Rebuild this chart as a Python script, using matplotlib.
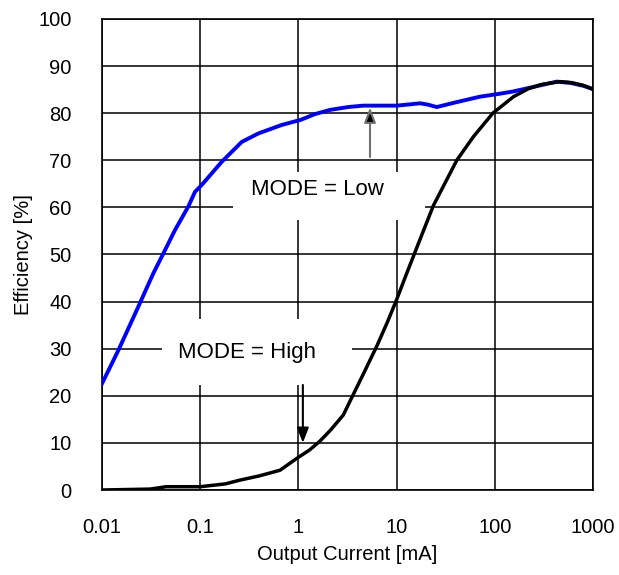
import numpy as np
import matplotlib.pyplot as plt
from matplotlib.patches import Rectangle

plt.rcParams['font.family'] = ['Liberation Sans', 'DejaVu Sans']

# MODE = Low (blue)
low_x = [0.01, 0.0147, 0.0234, 0.0333, 0.0421, 0.0554, 0.0757, 0.0885, 0.104,
         0.166, 0.265, 0.391, 0.676, 1.06, 1.47, 2.1, 3.2, 4.56, 7.0, 10,
         14.0, 17.4, 21.0, 25.6, 40, 70.5, 110, 153, 250, 428, 600, 800, 1000]
low_y = [22.6, 29.7, 38.9, 46.0, 50.2, 55.2, 60.2, 63.3, 64.8,
         69.7, 73.9, 75.7, 77.5, 78.6, 79.8, 80.7, 81.3, 81.6, 81.6, 81.6,
         81.9, 82.1, 81.8, 81.3, 82.3, 83.5, 84.1, 84.6, 85.6, 86.7, 86.4, 85.8, 85.1]

# MODE = High (black)
high_x = [0.01, 0.031, 0.045, 0.1, 0.18, 0.254, 0.4, 0.65, 0.96, 1.3, 1.66,
          2.1, 2.86, 3.49, 4.6, 6.27, 8.0, 10, 12.3, 15.4, 23.7, 41, 60.5,
          95.5, 155, 220, 300, 460, 600, 800, 1000]
high_y = [0.0, 0.2, 0.7, 0.7, 1.3, 2.1, 3.0, 4.2, 6.7, 8.5, 10.4,
          12.6, 15.9, 19.6, 24.7, 30.5, 35.5, 40.4, 45.3, 50.5, 60.4, 70.0, 75.0,
          80.0, 83.5, 85.2, 86.1, 86.7, 86.5, 85.9, 85.1]

xticks = [0.01, 0.1, 1, 10, 100, 1000]
xlabels = ['0.01', '0.1', '1', '10', '100', '1000']
yticks = list(range(0, 101, 10))

fig = plt.figure(figsize=(6.19, 5.75), dpi=100)
ax = fig.add_axes([0.1648, 0.1478, 0.7932, 0.8192])

ax.plot(low_x, low_y, color='#0000ff', lw=2.8, zorder=4)
ax.plot(high_x, high_y, color='black', lw=2.5, zorder=5)

ax.set_xscale('log')
ax.set_xlim(0.01, 1000)
ax.set_ylim(0, 100)
ax.set_xticks(xticks)
ax.set_xticklabels(xlabels)
ax.minorticks_off()
ax.set_yticks(yticks)
ax.grid(True, color='black', lw=1.1, zorder=1)
ax.set_axisbelow(True)
ax.tick_params(length=0, labelsize=14.5, pad=20)
ax.tick_params(axis='y', pad=22)
for s in ax.spines.values():
    s.set_linewidth(1.2)

ax.set_xlabel('Output Current [mA]', fontsize=14.5, labelpad=6)
ax.set_ylabel('Efficiency [%]', fontsize=14.5, labelpad=4)

# white boxes behind the labels
ax.add_patch(Rectangle((0.216, 57.3), 19.5 - 0.216, 67.5 - 57.3,
                       facecolor='white', edgecolor='none', zorder=2))
ax.add_patch(Rectangle((0.0408, 22.3), 3.52 - 0.0408, 36.2 - 22.3,
                       facecolor='white', edgecolor='none', zorder=2))

ax.text(1.58, 63.7, 'MODE = Low', fontsize=16, ha='center', va='center', zorder=3)
ax.text(0.30, 29.3, 'MODE = High', fontsize=16, ha='center', va='center', zorder=3)

ax.annotate('', xy=(5.36, 81.2), xytext=(5.36, 70.7),
            arrowprops=dict(arrowstyle='-|>,head_width=0.35,head_length=0.9',
                            lw=1.5, shrinkA=0, shrinkB=0,
                            fc='black', ec='#707070'), zorder=6)
ax.annotate('', xy=(1.11, 10.0), xytext=(1.11, 22.3),
            arrowprops=dict(arrowstyle='-|>,head_width=0.35,head_length=0.9',
                            color='black', lw=1.5, shrinkA=0, shrinkB=0),
            zorder=6)

fig.savefig('out.png', dpi=100)
